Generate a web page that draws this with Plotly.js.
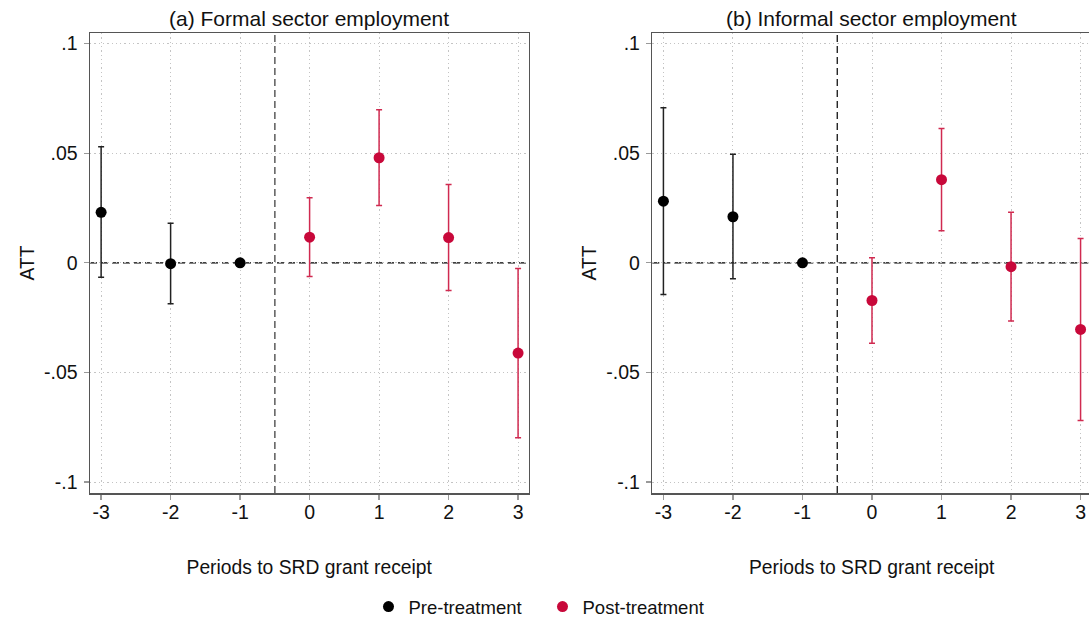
<!DOCTYPE html>
<html>
<head>
<meta charset="utf-8">
<script src="https://cdn.plot.ly/plotly-3.0.1.min.js"></script>
<style>
html,body{margin:0;padding:0;overflow:hidden;background:#fff;}
#chart{width:1091px;height:650px;}
</style>
</head>
<body>
<div id="chart"></div>
<script>
// Periods relative to SRD grant receipt
const prePeriods = [-3, -2, -1];
const postPeriods = [0, 1, 2, 3];
const xTickVals = [-3, -2, -1, 0, 1, 2, 3];
const xTickText = ['-3', '-2', '-1', '0', '1', '2', '3'];
const yTickVals = [-0.1, -0.05, 0, 0.05, 0.1];
const yTickText = ['-.1', '-.05', '0', '.05', '.1'];

// (a) Formal sector employment
const formalPreATT = [0.023, -0.0004, 0];
const formalPreLo  = [-0.0066, -0.0187, 0];
const formalPreHi  = [0.0529, 0.018, 0];
const formalPostATT = [0.0117, 0.0479, 0.0115, -0.0412];
const formalPostLo  = [-0.0063, 0.0261, -0.0126, -0.0798];
const formalPostHi  = [0.0297, 0.0698, 0.0357, -0.0026];

// (b) Informal sector employment
const informalPreATT = [0.0281, 0.021, 0];
const informalPreLo  = [-0.0145, -0.0073, 0];
const informalPreHi  = [0.0707, 0.0495, 0];
const informalPostATT = [-0.0172, 0.0379, -0.0018, -0.0304];
const informalPostLo  = [-0.0367, 0.0146, -0.0266, -0.0719];
const informalPostHi  = [0.0023, 0.0613, 0.0231, 0.0111];

const panelTitles = ['(a) Formal sector employment', '(b) Informal sector employment'];
const xTitle = 'Periods to SRD grant receipt';
const yTitle = 'ATT';
const seriesNames = ['Pre-treatment', 'Post-treatment'];
const treatmentLine = -0.5;
const zeroLine = 0;

const BLACK = '#000000';
const RED = '#c8083a';
const RED_BAR = '#d02a50';
const FONT = 'Liberation Sans, Arial, sans-serif';
const H = 650;
const PLOT_TOP = 33, PLOT_BOTTOM = 493;

function errTrace(x, est, lo, hi, color, barColor, name, xa, ya, showLegend) {
  return {
    type: 'scatter', mode: 'markers', x: x, y: est, name: name,
    xaxis: xa, yaxis: ya, showlegend: showLegend, legendgroup: name,
    marker: {color: color, size: 11},
    error_y: {
      type: 'data', symmetric: false,
      array: hi.map((h, i) => h - est[i]),
      arrayminus: est.map((e, i) => e - lo[i]),
      color: barColor, thickness: 1.5, width: 3
    },
    cliponaxis: false
  };
}

const data = [
  errTrace(prePeriods, formalPreATT, formalPreLo, formalPreHi, BLACK, '#222', seriesNames[0], 'x', 'y', true),
  errTrace(postPeriods, formalPostATT, formalPostLo, formalPostHi, RED, RED_BAR, seriesNames[1], 'x', 'y', true),
  errTrace(prePeriods, informalPreATT, informalPreLo, informalPreHi, BLACK, '#222', seriesNames[0], 'x2', 'y2', false),
  errTrace(postPeriods, informalPostATT, informalPostLo, informalPostHi, RED, RED_BAR, seriesNames[1], 'x2', 'y2', false)
];

const GRID = {showgrid: true, gridcolor: '#c4c4c4', griddash: '1.3px,3px', gridwidth: 1};

function xAxis(domain, anchor) {
  return Object.assign({
    domain: domain, anchor: anchor, range: [-3.16, 3.15],
    tickmode: 'array', tickvals: xTickVals, ticktext: xTickText,
    ticks: 'outside', ticklen: 5, tickcolor: '#999', tickwidth: 1.3,
    ticklabelstandoff: -4,
    zeroline: false, showline: true, linecolor: '#555', linewidth: 1.5, mirror: true,
    tickfont: {family: FONT, size: 19.5, color: '#111'},
    title: {text: xTitle, font: {family: FONT, size: 19.3, color: '#111'}, standoff: 38},
    automargin: false
  }, GRID);
}
function yAxis(anchor) {
  return Object.assign({
    domain: [0, 1], anchor: anchor, range: [-0.105, 0.1048],
    tickmode: 'array', tickvals: yTickVals, ticktext: yTickText,
    ticks: 'outside', ticklen: 5, tickcolor: '#999', tickwidth: 1.3,
    ticklabelstandoff: 2,
    zeroline: false, showline: true, linecolor: '#555', linewidth: 1.5, mirror: true,
    tickfont: {family: FONT, size: 19.5, color: '#111'},
    title: {text: yTitle, font: {family: FONT, size: 19.3, color: '#111'}, standoff: 4},
    automargin: false
  }, GRID);
}

const layout = {
  width: 1091, height: H,
  margin: {l: 0, r: 0, t: PLOT_TOP, b: H - PLOT_BOTTOM},
  paper_bgcolor: '#fff', plot_bgcolor: '#fff',
  font: {family: FONT, color: '#111'},
  xaxis: xAxis([90 / 1091, 528.5 / 1091], 'y'),
  yaxis: yAxis('x'),
  xaxis2: xAxis([652.3 / 1091, 1], 'y2'),
  yaxis2: yAxis('x2'),
  showlegend: true,
  legend: {
    orientation: 'h', x: 0.5 - 3 / 1091, xanchor: 'center',
    y: (PLOT_BOTTOM - 607) / (PLOT_BOTTOM - PLOT_TOP), yanchor: 'middle',
    font: {family: FONT, size: 18.5, color: '#111'}, itemwidth: 30,
    entrywidth: 129, entrywidthmode: 'pixels'
  },
  annotations: [
    {text: panelTitles[0], xref: 'x domain', yref: 'paper', x: 0.5, y: 1, yshift: 15, yanchor: 'middle',
     showarrow: false, font: {family: FONT, size: 21, color: '#111'}},
    {text: panelTitles[1], xref: 'x2 domain', yref: 'paper', x: 0.5, y: 1, yshift: 15, yanchor: 'middle',
     showarrow: false, font: {family: FONT, size: 21, color: '#111'}}
  ],
  shapes: [
    {type: 'line', xref: 'x domain', yref: 'y', x0: 0, x1: 1, y0: zeroLine, y1: zeroLine,
     line: {color: '#000', width: 1.2, dash: '7px,4px'}, layer: 'below'},
    {type: 'line', xref: 'x', yref: 'y domain', x0: treatmentLine, x1: treatmentLine, y0: 0, y1: 1,
     line: {color: '#666', width: 1.6, dash: '7px,4px'}, layer: 'below'},
    {type: 'line', xref: 'x2 domain', yref: 'y2', x0: 0, x1: 1, y0: zeroLine, y1: zeroLine,
     line: {color: '#000', width: 1.2, dash: '7px,4px'}, layer: 'below'},
    {type: 'line', xref: 'x2', yref: 'y2 domain', x0: treatmentLine, x1: treatmentLine, y0: 0, y1: 1,
     line: {color: '#000', width: 1.2, dash: '7px,4px'}, layer: 'below'}
  ]
};

Plotly.newPlot('chart', data, layout, {displayModeBar: false, staticPlot: true});
</script>
</body>
</html>
